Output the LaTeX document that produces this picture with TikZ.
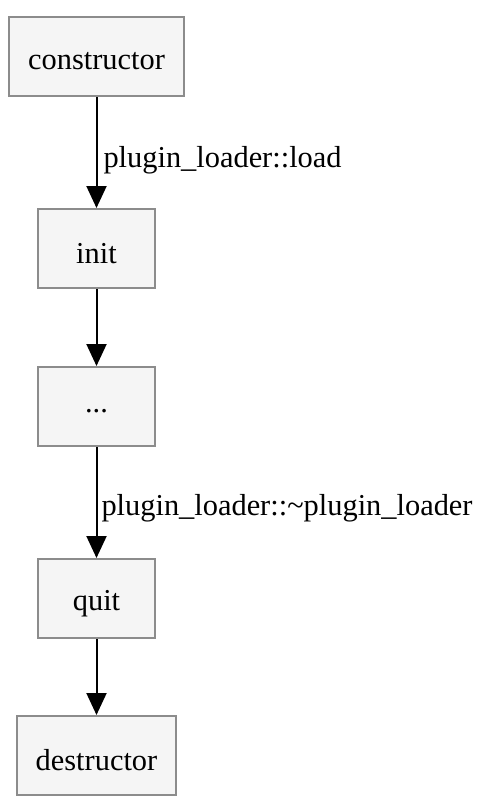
\documentclass[tikz,border=0pt]{standalone}
\usepackage{fontspec}
\setmainfont{Liberation Serif}
\usetikzlibrary{arrows.meta}
\begin{document}
\begin{tikzpicture}[x=1pt,y=-1pt,
  box/.style={draw=black!45,fill=black!4,line width=2pt,minimum height=79pt,inner sep=0pt,font=\fontsize{30.4}{36}\selectfont},
  txt/.style={inner sep=0pt,font=\fontsize{30.4}{36}\selectfont},
  edge/.style={line width=2pt,-{Triangle[length=22pt,width=20pt]}},
  lbl/.style={anchor=west,inner sep=0pt,font=\fontsize{30.4}{36}\selectfont}]
\useasboundingbox (0,0) rectangle (483,812);
\node[box,minimum width=175pt] (c) at (96.5,56.5) {};
\node[box,minimum width=117pt] (i) at (96.5,248.5) {};
\node[box,minimum width=117pt] (d) at (96.5,406.5) {};
\node[box,minimum width=117pt] (q) at (96.5,598.5) {};
\node[box,minimum width=159pt] (x) at (96.5,755.5) {};
\node[txt] (ct) at ([yshift=-5pt]c.center) {constructor};
\node[txt] (it) at ([yshift=-5pt]i.center) {init};
\node[txt] (dt) at ([yshift=-5pt]d.center) {...};
\node[txt] (qt) at ([yshift=-5pt]q.center) {quit};
\node[txt] (xt) at ([yshift=-5pt]x.center) {destructor};
\draw[edge] (c) -- (i) node[midway,lbl,xshift=6pt,yshift=-8pt] {plugin\_loader::load};
\draw[edge] (i) -- (d);
\draw[edge] (d) -- (q) node[midway,lbl,xshift=4pt,yshift=-6pt] {plugin\_loader::\char`~plugin\_loader};
\draw[edge] (q) -- (x);
\end{tikzpicture}
\end{document}
